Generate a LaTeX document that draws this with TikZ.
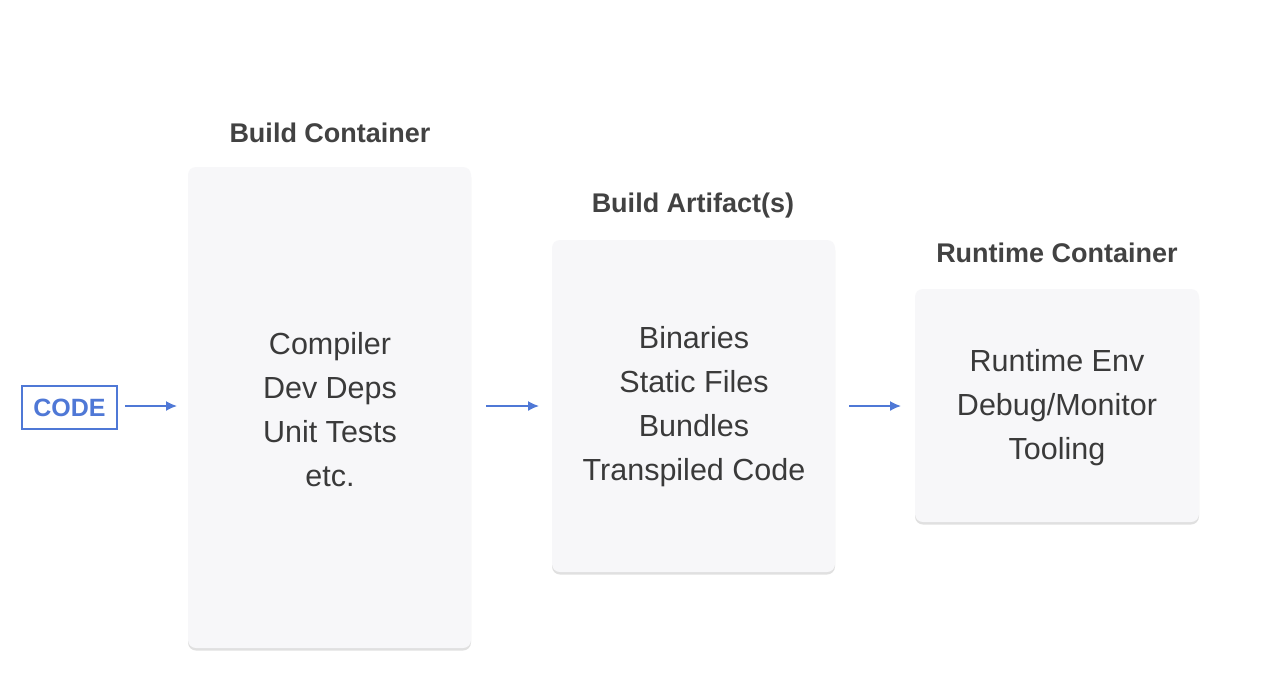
\documentclass[tikz,border=0pt]{standalone}
\usepackage{fontspec}
\setmainfont{Liberation Sans}
\usetikzlibrary{shadows,arrows.meta}
\definecolor{boxfill}{HTML}{F7F7F9}
\definecolor{txt}{HTML}{3A3A3A}
\definecolor{ttl}{HTML}{424242}
\definecolor{blu}{HTML}{4F78D6}
\tikzset{
  container/.style={draw=none, fill=boxfill, rounded corners=8pt, inner sep=0pt,
    drop shadow={shadow xshift=0pt, shadow yshift=-2.5pt, opacity=0.3, fill=black!40}},
  body/.style={text=txt, font=\fontsize{30.5}{44}\selectfont, align=center},
  title/.style={text=ttl, font=\fontsize{27}{30}\selectfont\bfseries},
  flow/.style={draw=blu, line width=1.6pt, -{Latex[length=11pt,width=10pt]}}
}
\begin{document}
\begin{tikzpicture}[x=1pt,y=-1pt]
\useasboundingbox (0,0) rectangle (1286,694);
\fill[white] (0,0) rectangle (1286,694);
% boxes
\node[container, minimum width=283pt, minimum height=481pt] (bc) at (329.5,407.5) {};
\node[container, minimum width=283pt, minimum height=332pt] (ba) at (693.5,406) {};
\node[container, minimum width=284pt, minimum height=233pt] (rc) at (1057,405.5) {};
% titles
\node[title] (tbc) at (330,133) {Build Container};
\node[title] (tba) at (693,206) {Build Artifact(s)};
\node[title] (trc) at (1057,253) {Runtime Container};
% body text
\node[body] (lbc) at (330,410) {Compiler\\Dev Deps\\Unit Tests\\etc.};
\node[body] (lba) at (694,407) {Binaries\\Static Files\\Bundles\\Transpiled Code};
\node[body] (lrc) at (1057,408) {Runtime Env\\Debug/Monitor\\Tooling};
% code box
\node[draw=blu, line width=1.6pt, text=blu, font=\fontsize{25}{30}\selectfont\bfseries,
      minimum width=95pt, minimum height=43pt, inner sep=0pt] (code) at (69.5,407.5) {CODE};
% arrows
\coordinate (a1s) at (125,406); \coordinate (a1e) at (177,406);
\coordinate (a2s) at (486,406); \coordinate (a2e) at (539,406);
\coordinate (a3s) at (849,406); \coordinate (a3e) at (901,406);
\draw[flow] (a1s) -- (a1e);
\draw[flow] (a2s) -- (a2e);
\draw[flow] (a3s) -- (a3e);
\end{tikzpicture}
\end{document}
